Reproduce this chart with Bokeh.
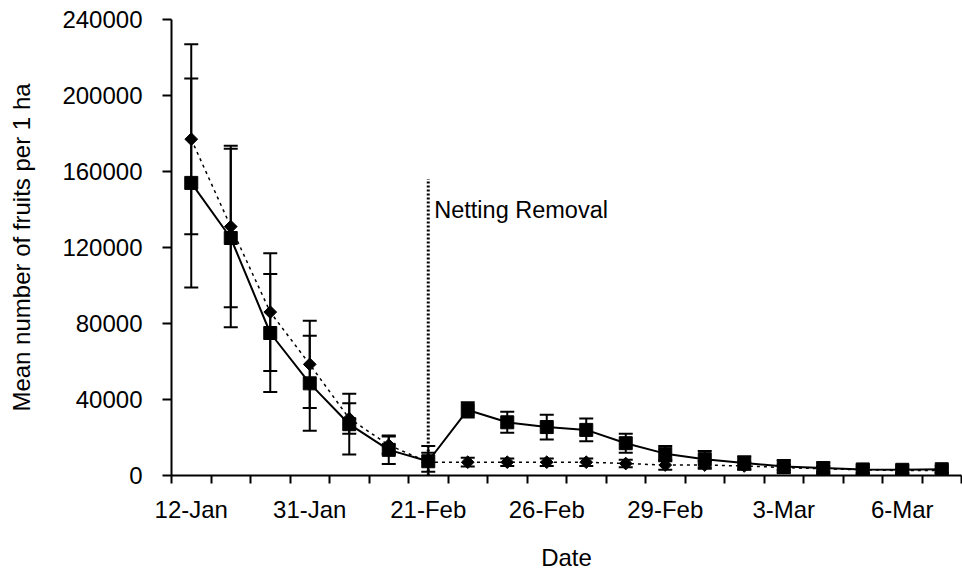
import numpy as np
from bokeh.plotting import figure
from bokeh.models import (ColumnDataSource, Whisker, TeeHead, FixedTicker, Label, Range1d)
from bokeh.embed import file_html
from bokeh.resources import INLINE

# ---- data ----
n_cat = 20
tick_labels = ["12-Jan", "31-Jan", "21-Feb", "26-Feb", "29-Feb", "3-Mar", "6-Mar"]
tick_label_cats = [0, 3, 6, 9, 12, 15, 18]   # category indices carrying a label

square_mean = [154000, 125000, 75000, 48500, 27000, 13500, 7500, 34500, 28000, 25500,
               24000, 17000, 11500, 8600, 6600, 4700, 3900, 3200, 3000, 3300]
square_err = [55000, 47000, 31000, 25000, 16000, 7500, 8000, 4000, 5500, 6500,
              6000, 5000, 4000, 4300, 3500, 3500, 3000, 2500, 2200, 1800]
diamond_mean = [177000, 131000, 86000, 58500, 30000, 16000, 7000, 7000, 7000, 7000,
                7000, 6300, 5500, 5500, 5000, 4200, 3500, 3000, 2600, 2600]
diamond_err = [50000, 42500, 31000, 23000, 8000, 4500, 5000, 2300, 2000, 2000,
               2000, 2000, 2500, 2000, 2000, 1500, 1500, 1500, 1200, 1200]
netting_cat = 6
netting_top = 156000
y_ticks = [0, 40000, 80000, 120000, 160000, 200000, 240000]

FONT = "Liberation Sans"

x = np.arange(n_cat) + 0.5
sq = ColumnDataSource(dict(x=x, y=square_mean,
                           lo=np.array(square_mean) - np.array(square_err),
                           hi=np.array(square_mean) + np.array(square_err)))
di = ColumnDataSource(dict(x=x, y=diamond_mean,
                           lo=np.array(diamond_mean) - np.array(diamond_err),
                           hi=np.array(diamond_mean) + np.array(diamond_err)))

p = figure(width=962, height=573, output_backend="svg", toolbar_location=None,
           x_range=Range1d(0, n_cat), y_range=Range1d(0, 240000),
           min_border_left=171, min_border_right=1, min_border_top=19, min_border_bottom=98)
p.outline_line_color = None
p.xgrid.visible = False
p.ygrid.visible = False

# netting removal line
p.segment(x0=[netting_cat + 0.5], y0=[0], x1=[netting_cat + 0.5], y1=[netting_top],
          line_color="black", line_width=3, line_dash="2 2")
p.add_layout(Label(x=netting_cat + 0.5, y=139500, x_offset=6, text="Netting Removal",
                   text_font=FONT, text_font_size="23.5px", text_baseline="middle",
                   text_color="black"))

# diamond series (dashed)
p.add_layout(Whisker(source=di, base="x", lower="lo", upper="hi", line_color="black", line_width=2,
                     lower_head=TeeHead(size=14, line_color="black", line_width=2),
                     upper_head=TeeHead(size=14, line_color="black", line_width=2)))
p.line("x", "y", source=di, line_color="black", line_width=1.5, line_dash="3 4")
p.scatter("x", "y", source=di, marker="square", angle=np.pi / 4, size=9,
          fill_color="black", line_color="black")

# square series (solid)
p.add_layout(Whisker(source=sq, base="x", lower="lo", upper="hi", line_color="black", line_width=2,
                     lower_head=TeeHead(size=14, line_color="black", line_width=2),
                     upper_head=TeeHead(size=14, line_color="black", line_width=2)))
p.line("x", "y", source=sq, line_color="black", line_width=2)
p.scatter("x", "y", source=sq, marker="square", size=13, fill_color="black", line_color="black")

# x axis
xa = p.xaxis[0]
xa.ticker = FixedTicker(ticks=[c + 0.5 for c in tick_label_cats],
                        minor_ticks=list(range(n_cat + 1)))
xa.major_label_overrides = {c + 0.5: lab for c, lab in zip(tick_label_cats, tick_labels)}
xa.major_tick_out = 0
xa.major_tick_in = 0
xa.minor_tick_out = 8
xa.minor_tick_in = 0
xa.minor_tick_line_width = 2
xa.axis_line_width = 2
xa.major_label_text_font = FONT
xa.major_label_text_font_size = "24px"
xa.major_label_standoff = 12
xa.axis_label = "Date"
xa.axis_label_text_font = FONT
xa.axis_label_text_font_size = "24px"
xa.axis_label_text_font_style = "normal"
xa.axis_label_standoff = 18

# y axis
ya = p.yaxis[0]
ya.ticker = FixedTicker(ticks=y_ticks)
ya.major_label_overrides = {v: str(v) for v in y_ticks}
ya.major_tick_out = 9
ya.major_tick_in = 0
ya.major_tick_line_width = 2
ya.minor_tick_out = 0
ya.minor_tick_in = 0
ya.axis_line_width = 2
ya.major_label_text_font = FONT
ya.major_label_text_font_size = "24px"
ya.major_label_standoff = 20
ya.axis_label = "Mean number of fruits per 1 ha"
ya.axis_label_text_font = FONT
ya.axis_label_text_font_size = "24px"
ya.axis_label_text_font_style = "normal"
ya.axis_label_standoff = 24

for a in (xa, ya):
    a.axis_line_color = "black"
    a.major_tick_line_color = "black"
    a.minor_tick_line_color = "black"
    a.major_label_text_color = "black"
    a.axis_label_text_color = "black"

open("out.html", "w").write(file_html(p, INLINE))
